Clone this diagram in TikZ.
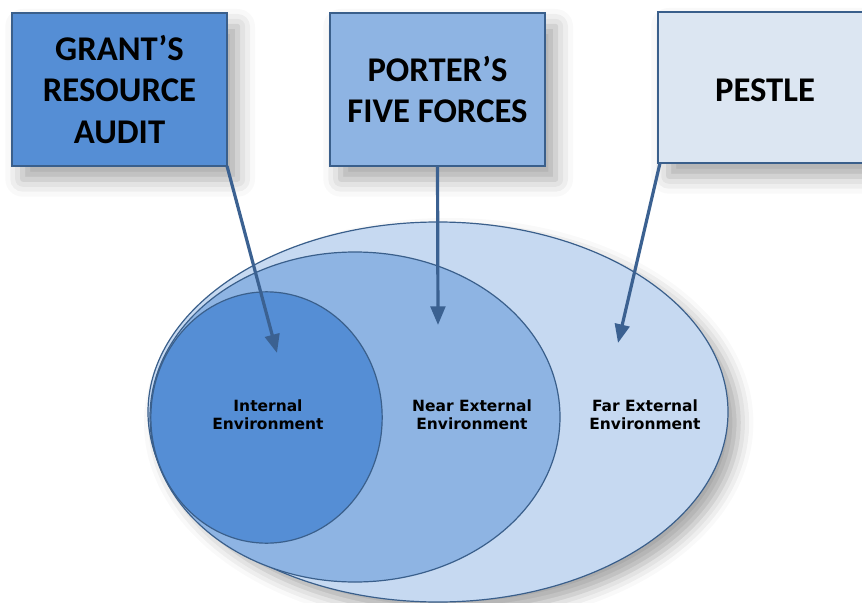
\documentclass[tikz,border=0pt]{standalone}
\usepackage{fontspec}
\setmainfont{Carlito}
\newfontfamily\labfont{DejaVu Sans}
\usetikzlibrary{shapes.geometric,arrows.meta,shadows.blur}
\definecolor{bordc}{HTML}{3A5F8B}
\definecolor{arrc}{HTML}{3B6191}
\definecolor{darkfill}{HTML}{558ED5}
\definecolor{midfill}{HTML}{8EB4E3}
\definecolor{lightfill}{HTML}{DCE6F2}
\definecolor{outerfill}{HTML}{C6D9F1}
\tikzset{
  toolbox/.style={draw=bordc, line width=1.6pt, inner sep=0pt, outer sep=0pt,
    align=center, font=\fontsize{26}{31}\selectfont\bfseries,
    blur shadow={shadow xshift=8pt, shadow yshift=-10pt, shadow blur radius=13pt, shadow opacity=35}},
  envell/.style={ellipse, draw=bordc, line width=0.9pt, inner sep=0pt, outer sep=0pt},
  envlabel/.style={align=center, font=\labfont\fontsize{11.6}{13.6}\selectfont\bfseries},
  linkarrow/.style={draw=arrc, line width=2.4pt, -{Triangle[length=14pt,width=11pt]}}
}
\begin{document}
\begin{tikzpicture}[x=0.75pt,y=-0.75pt]
\useasboundingbox (0,0) rectangle (862,602);
% environments
\node[envell, fill=outerfill, minimum width=435pt, minimum height=285pt,
  blur shadow={shadow xshift=8pt, shadow yshift=-8pt, shadow blur radius=11pt, shadow opacity=35}] (far) at (438,412) {};
\node[envell, fill=midfill, minimum width=307.5pt, minimum height=247.5pt] (near) at (355,417) {};
\node[envell, fill=darkfill, minimum width=173.5pt, minimum height=188.5pt] (internal) at (266.5,417.5) {};
\node[envlabel] (lint) at (268,415) {Internal\\Environment};
\node[envlabel] (lnear) at (472,415) {Near External\\Environment};
\node[envlabel] (lfar) at (645,415) {Far External\\Environment};
% tool boxes
\node[toolbox, fill=darkfill, minimum width=161.25pt, minimum height=114.75pt] (grant) at (119.5,89.5) {GRANT’S\\RESOURCE\\AUDIT};
\node[toolbox, fill=midfill, minimum width=161.25pt, minimum height=114.75pt] (porter) at (437.5,89.5) {PORTER’S\\FIVE FORCES};
\node[toolbox, fill=lightfill, minimum width=159pt, minimum height=113.25pt] (pestle) at (764,87.5) {};
\node[font=\fontsize{26}{31}\selectfont\bfseries] (pestletext) at (765,90) {PESTLE};
% arrow targets
\coordinate (tgrant) at (277,353);
\coordinate (tporter) at (438,325);
\coordinate (tpestle) at (618,343);
\draw[linkarrow] (grant.south east) -- (tgrant);
\draw[linkarrow] (porter.south) -- (tporter);
\draw[linkarrow] ([xshift=1.5pt]pestle.south west) -- (tpestle);
\end{tikzpicture}
\end{document}
